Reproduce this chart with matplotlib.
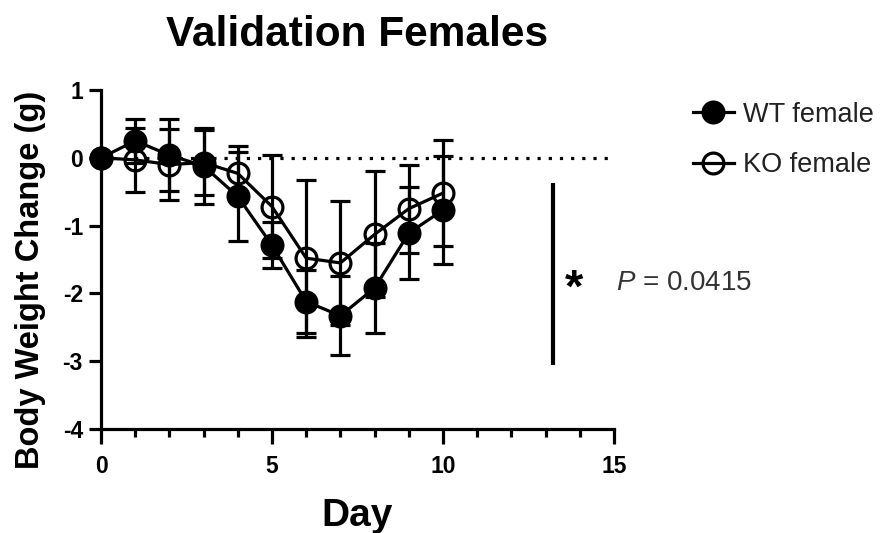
import numpy as np
import matplotlib
matplotlib.use('Agg')
import matplotlib.pyplot as plt
from matplotlib.lines import Line2D

# data (mean +/- SEM)
days = [0, 1, 2, 3, 4, 5, 6, 7, 8, 9, 10]
wt_mean = [0, 0.25, 0.04, -0.12, -0.57, -1.29, -2.12, -2.33, -1.92, -1.11, -0.77]
wt_sem = [0, 0.32, 0.53, 0.56, 0.66, 0.34, 0.47, 0.58, 0.66, 0.68, 0.79]
ko_mean = [0, -0.03, -0.10, -0.07, -0.23, -0.72, -1.48, -1.55, -1.13, -0.75, -0.52]
ko_sem = [0, 0.47, 0.52, 0.48, 0.40, 0.76, 1.16, 0.92, 0.93, 0.65, 0.78]
sig_x = 13.22
sig_y = [-0.37, -3.05]
p_label = '$P$ = 0.0415'

plt.rcParams['font.family'] = ['Liberation Sans', 'DejaVu Sans']
plt.rcParams['mathtext.fontset'] = 'custom'
plt.rcParams['mathtext.it'] = 'Liberation Sans:italic'
plt.rcParams['mathtext.rm'] = 'Liberation Sans'
plt.rcParams['axes.unicode_minus'] = False

lw = 2.3
ms = 15

fig = plt.figure(figsize=(8.8, 5.33), dpi=100)
ax = fig.add_axes([0.1148, 0.1951, 0.5829, 0.636])

# zero reference line
ax.plot([0, 15], [0, 0], color='k', linestyle=(0, (1, 2.5)), linewidth=lw, zorder=1)

ax.errorbar(days, ko_mean, yerr=ko_sem, color='k', linewidth=lw, elinewidth=lw,
            capsize=7, capthick=lw, marker='o', markersize=ms, markerfacecolor='none',
            markeredgewidth=lw, clip_on=False, zorder=2)
ax.errorbar(days, wt_mean, yerr=wt_sem, color='k', linewidth=lw, elinewidth=lw,
            capsize=7, capthick=lw, marker='o', markersize=ms, markerfacecolor='k',
            markeredgewidth=lw, clip_on=False, zorder=3)

# significance bar
ax.plot([sig_x, sig_x], sig_y, color='k', linewidth=3, solid_capstyle='butt')
ax.text(13.82, -1.95, '*', fontsize=34, fontweight='bold', ha='center', va='center')
ax.text(15.07, -1.84, p_label, fontsize=20, ha='left', va='center', color='#333333',
        clip_on=False)

ax.set_xlim(0, 15)
ax.set_ylim(-4, 1)
ax.set_xticks([0, 5, 10, 15])
ax.set_xticks(range(16), minor=True)
ax.set_yticks([-4, -3, -2, -1, 0, 1])
for s in ['top', 'right']:
    ax.spines[s].set_visible(False)
for s in ['left', 'bottom']:
    ax.spines[s].set_linewidth(lw)
ax.tick_params(which='major', width=lw, length=9, labelsize=16.5, pad=4)
ax.tick_params(axis='x', which='major', length=11, pad=8)
ax.tick_params(axis='x', which='minor', width=lw, length=6)
for lab in ax.get_xticklabels() + ax.get_yticklabels():
    lab.set_fontweight('bold')

ax.set_title('Validation Females', fontsize=30.5, fontweight='bold', pad=32)
ax.set_xlabel('Day', fontsize=28, fontweight='bold', labelpad=14)
ax.set_ylabel('Body Weight Change (g)', fontsize=23.5, fontweight='bold')
ax.yaxis.set_label_coords(-0.108, 0.44)

handles = [Line2D([], [], color='k', linewidth=lw, marker='o', markersize=ms,
                  markerfacecolor='k', markeredgewidth=lw),
           Line2D([], [], color='k', linewidth=lw, marker='o', markersize=ms,
                  markerfacecolor='none', markeredgewidth=lw)]
fig.legend(handles, ['WT female', 'KO female'], loc='upper left',
           bbox_to_anchor=(0.76, 0.855), frameon=False, fontsize=19.5,
           handlelength=1.5, handletextpad=0.35, labelspacing=0.9,
           labelcolor='#222222')

fig.savefig('out.png', dpi=100)
